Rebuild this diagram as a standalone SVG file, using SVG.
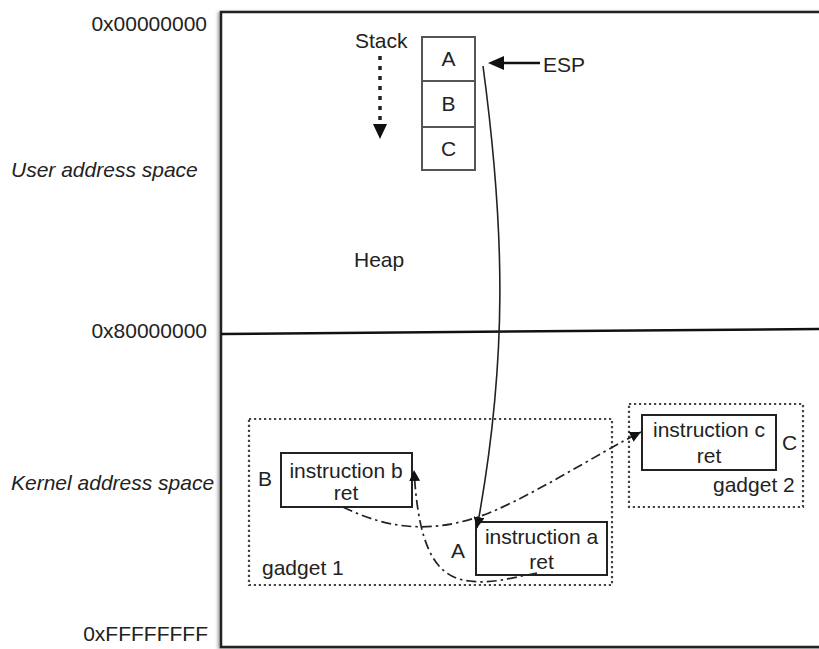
<svg xmlns="http://www.w3.org/2000/svg" width="819" height="649" viewBox="0 0 819 649">
<defs>
<style>
text{font-family:"Liberation Sans",Arial,sans-serif;font-size:21px;fill:#222}
.it{font-style:italic}
.box{fill:#fff;stroke:#222;stroke-width:2}
.cell{fill:#fff;stroke:#555;stroke-width:2}
.dot{fill:none;stroke:#444;stroke-width:2.2;stroke-dasharray:2.2,2.8}
.dd{fill:none;stroke:#222;stroke-width:1.7;stroke-dasharray:10,4,2.5,4}
.solid{fill:none;stroke:#222;stroke-width:1.6}
</style>
<marker id="ah" viewBox="0 0 10 10" refX="10" refY="5" markerWidth="11" markerHeight="11" markerUnits="userSpaceOnUse" orient="auto">
<path d="M0,0 L10,5 L0,10 z" fill="#111"/>
</marker>
<filter id="sh" x="-5%" y="-5%" width="110%" height="110%">
<feDropShadow dx="-2" dy="1" stdDeviation="1.5" flood-color="#000" flood-opacity="0.35"/>
</filter>
</defs>
<rect width="819" height="649" fill="#fff"/>

<g id="memory">
<rect x="221" y="12" width="620" height="635" fill="#fff" stroke="#222" stroke-width="2.5" filter="url(#sh)"/>
<line x1="221" y1="334" x2="819" y2="329" stroke="#111" stroke-width="2.5"/>
</g>

<g id="labels">
<text x="207" y="31" text-anchor="end">0x00000000</text>
<text x="11" y="177" class="it">User address space</text>
<text x="207" y="338" text-anchor="end">0x80000000</text>
<text x="11" y="490" class="it">Kernel address space</text>
<text x="208" y="641" text-anchor="end">0xFFFFFFFF</text>
<text x="354" y="267">Heap</text>
</g>

<g id="stack">
<text x="355" y="48">Stack</text>
<rect class="cell" x="422" y="37" width="53" height="44"/>
<rect class="cell" x="422" y="81" width="53" height="46"/>
<rect class="cell" x="422" y="127" width="53" height="43"/>
<text x="448.5" y="66" text-anchor="middle">A</text>
<text x="448.5" y="111" text-anchor="middle">B</text>
<text x="448.5" y="156" text-anchor="middle">C</text>
</g>

<g id="esp">
<text x="543" y="72">ESP</text>
</g>

<g id="gadget1">
<rect class="dot" x="249" y="419" width="363" height="166"/>
<text x="262" y="575">gadget 1</text>
</g>
<g id="instr-b">
<rect class="box" x="281" y="453" width="131" height="54"/>
<text x="346" y="478" text-anchor="middle">instruction b</text>
<text x="346" y="500" text-anchor="middle">ret</text>
<text x="258" y="486">B</text>
</g>
<g id="instr-a">
<rect class="box" x="476" y="522" width="131" height="53"/>
<text x="541.5" y="544" text-anchor="middle">instruction a</text>
<text x="541.5" y="569" text-anchor="middle">ret</text>
<text x="451" y="558">A</text>
</g>
<g id="gadget2">
<rect class="dot" x="629" y="404" width="174" height="103"/>
<text x="713" y="492">gadget 2</text>
</g>
<g id="instr-c">
<rect class="box" x="642" y="415" width="134" height="55"/>
<text x="709" y="437" text-anchor="middle">instruction c</text>
<text x="709" y="463" text-anchor="middle">ret</text>
<text x="782" y="450">C</text>
</g>

<g id="connectors">
<line x1="380" y1="56" x2="380" y2="124" stroke="#222" stroke-width="3.5" stroke-dasharray="4,6"/>
<path d="M373,124 L387,124 L380,139 z" fill="#111"/>
<line x1="540" y1="63" x2="500" y2="63" stroke="#111" stroke-width="2.5"/>
<path d="M504,56 L504,70 L488,63 z" fill="#111"/>
<path class="solid" d="M483,66 C505,230 508,360 477,528" marker-end="url(#ah)"/>
<path class="dd" d="M343,507 C390,530 430,532 475,518 S600,452 641,432" marker-end="url(#ah)"/>
<path class="dd" d="M537,573 C510,578 492,584 470,581 C432,578 418,540 414,470" marker-end="url(#ah)"/>
</g>
</svg>
